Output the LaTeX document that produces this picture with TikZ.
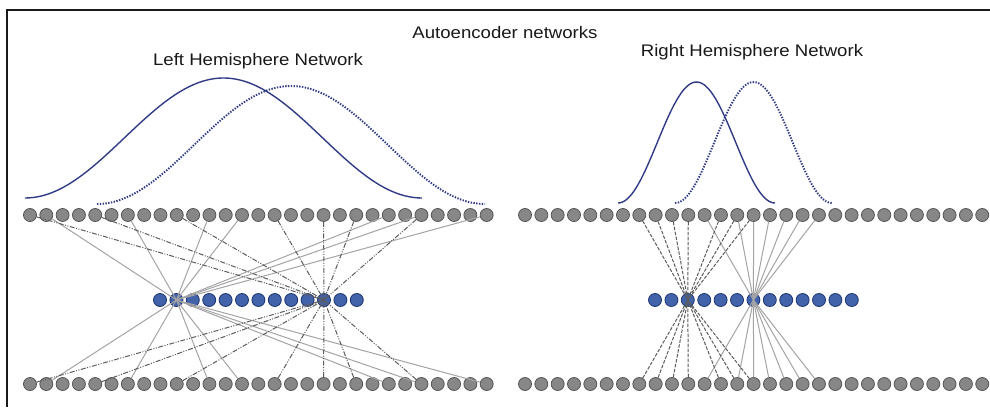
\documentclass[tikz,border=0pt]{standalone}
\usepackage{fontspec}
\setmainfont{Liberation Sans}
\definecolor{unitfill}{HTML}{878787}
\definecolor{unitedge}{HTML}{555555}
\definecolor{hidfill}{HTML}{4262AA}
\definecolor{hidedge}{HTML}{1E3570}
\definecolor{linkgray}{HTML}{A4A4A4}
\definecolor{dashgray}{HTML}{5C5C5C}
\definecolor{curveblue}{HTML}{323C86}
\definecolor{framecol}{HTML}{1A1A1A}
\begin{document}
\begin{tikzpicture}[x=1pt,y=-1pt,
  inunit/.style={circle,draw=unitedge,fill=unitfill,line width=0.8pt,minimum size=13pt,inner sep=0pt},
  hidunit/.style={circle,draw=hidedge,fill=hidfill,line width=0.8pt,minimum size=13pt,inner sep=0pt},
  solidlink/.style={draw=linkgray,line width=1pt},
  ddlink/.style={draw=dashgray,line width=1pt,dash pattern=on 5pt off 1.5pt on 1pt off 1.5pt on 1pt off 1.5pt},
  dlink/.style={draw=dashgray,line width=1pt,dash pattern=on 3.5pt off 1.5pt},
  bell/.style={draw=curveblue,line width=1.4pt},
  dotbell/.style={draw=curveblue,line width=1.9pt,dash pattern=on 1.4pt off 1.4pt},
  titletext/.style={font=\fontsize{18.6}{20}\selectfont,inner sep=0pt,text=black!90}
]
\useasboundingbox (0,0) rectangle (990,407);
\fill[white] (0,0) rectangle (990,407);
% frame
\draw[line width=2pt,color=framecol] (990,10) -- (7,10) -- (7,407);
% titles
\node[titletext] (title) at (505,33) {\scalebox{1}[0.9]{Autoencoder networks}};
\node[titletext] (lefttitle) at (258,61) {\scalebox{1}[0.9]{Left Hemisphere Network}};
\node[titletext] (righttitle) at (752,52) {\scalebox{1}[0.9]{Right Hemisphere Network}};
% receptive field curves
\draw[bell] plot[domain=25:422,samples=120] (\x,{198-120*(1+cos((\x-223.5)/198.5*180))/2});
\draw[dotbell] plot[domain=97:485,samples=120] (\x,{204-118*(1+cos((\x-291)/194*180))/2});
\draw[bell] plot[domain=618:775,samples=80] (\x,{203-121*(1+cos((\x-696.5)/78.5*180))/2});
\draw[dotbell] plot[domain=675:832,samples=80] (\x,{203-121*(1+cos((\x-753.5)/78.5*180))/2});
% units
\foreach \i in {0,...,28} {
  \node[inunit] (LT\i) at ({30+16.31*\i},215) {};
  \node[inunit] (LB\i) at ({30+16.31*\i},384) {};
  \node[inunit] (RT\i) at ({525+16.33*\i},215) {};
  \node[inunit] (RB\i) at ({525+16.33*\i},384) {};
}
\foreach \j in {0,...,12} {
  \node[hidunit] (LH\j) at ({160+16.4*\j},300) {};
  \node[hidunit] (RH\j) at ({655+16.4*\j},300) {};
}
% left network links
\foreach \i in {1,6,11,13,22,24,28} {
  \draw[solidlink] (LT\i) -- (LH1.center);
  \draw[solidlink] (LB\i) -- (LH1.center);
}
\foreach \i in {0,4,9,15,18,20,24} {
  \draw[ddlink] (LT\i) -- (LH10.center);
  \draw[ddlink] (LB\i) -- (LH10.center);
}
% right network links
\foreach \k in {11,13,14,15,16,17,18} {
  \draw[solidlink] (RT\k) -- (RH6.center);
  \draw[solidlink] (RB\k) -- (RH6.center);
}
\foreach \k in {7,8,9,10,12,13,14} {
  \draw[dlink] (RT\k) -- (RH2.center);
  \draw[dlink] (RB\k) -- (RH2.center);
}
\end{tikzpicture}
\end{document}
